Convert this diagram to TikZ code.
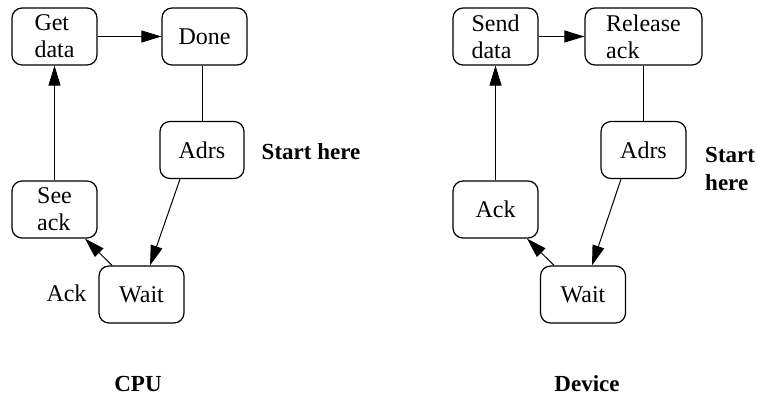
\documentclass[tikz,border=0pt]{standalone}
\usepackage{fontspec}
\setmainfont{Liberation Serif}
\usetikzlibrary{arrows.meta}
\begin{document}
\begin{tikzpicture}[x=1pt,y=-1pt,
  state/.style={draw,line width=1.2pt,rounded corners=10pt,minimum width=85pt,minimum height=57pt,align=left,inner sep=0pt,font=\fontsize{24}{27}\selectfont},
  lbl/.style={font=\fontsize{24}{27}\selectfont,align=left,inner sep=0pt},
  blbl/.style={font=\fontsize{23}{28}\selectfont\bfseries,align=left,inner sep=0pt},
  arr/.style={line width=1pt,-{Triangle[length=20pt,width=12pt]}},
  ln/.style={line width=1pt}]
\useasboundingbox (0,0) rectangle (759,397);
% CPU
\node[state] (get) at (54.5,36.5) {Get\\data};
\node[state] (done) at (204.5,36.5) {Done};
\node[state,minimum width=84pt] (adrs) at (202,150) {Adrs};
\node[state] (see) at (54.5,209.5) {See\\ack};
\node[state] (wait) at (141.5,294.5) {Wait};
\node[blbl] (start1) at (311,152) {Start here};
\node[lbl] (ack1) at (66.5,293) {Ack};
\node[blbl] (cpu) at (138,384) {CPU};
\draw[arr] (get) -- (done);
\draw[ln] (adrs.north |- done.south) -- (adrs.north);
\draw[arr] ([xshift=-22pt]adrs.south) -- ([xshift=8.5pt]wait.north);
\draw[arr] ([xshift=-29.5pt]wait.north) -- ([xshift=30.5pt]see.south);
\draw[arr] (see) -- (get);
% Device
\node[state] (send) at (495.5,36.5) {Send\\data};
\node[state,minimum width=117pt] (rel) at (643.5,36.5) {Release\\ack};
\node[state] (adrs2) at (643.5,150) {Adrs};
\node[state] (ack2) at (495.5,209.5) {Ack};
\node[state] (wait2) at (583,294.5) {Wait};
\node[blbl,anchor=west] (start2) at (705,169) {Start\\here};
\node[blbl] (dev) at (587,384) {Device};
\draw[arr] (send) -- (rel);
\draw[ln] (rel) -- (adrs2);
\draw[arr] ([xshift=-22.5pt]adrs2.south) -- ([xshift=9pt]wait2.north);
\draw[arr] ([xshift=-29pt]wait2.north) -- ([xshift=31.5pt]ack2.south);
\draw[arr] (ack2) -- (send);
\end{tikzpicture}
\end{document}
